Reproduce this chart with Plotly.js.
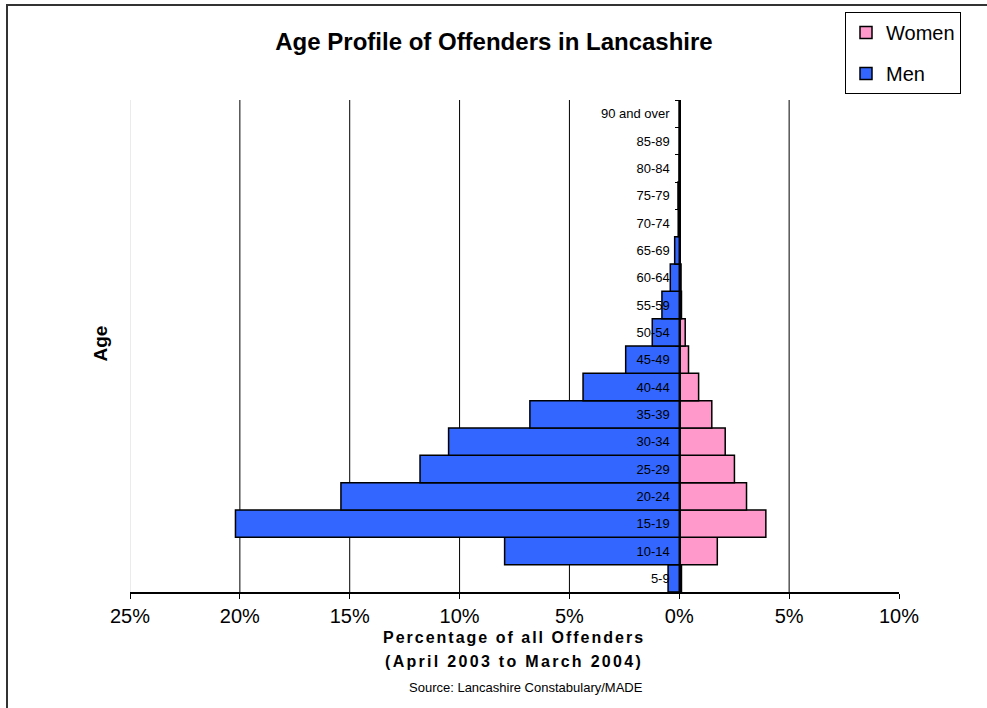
<!DOCTYPE html>
<html>
<head>
<meta charset="utf-8">
<script src="https://cdn.plot.ly/plotly-3.0.1.min.js"></script>
<style>html,body{margin:0;padding:0;background:#fff;}#chart{width:987px;height:708px;}</style>
</head>
<body>
<div id="chart"></div>
<script>
const ageGroups = ["5-9","10-14","15-19","20-24","25-29","30-34","35-39","40-44","45-49","50-54","55-59","60-64","65-69","70-74","75-79","80-84","85-89","90 and over"];
const menPct   = [0.51, 7.95, 20.2, 15.4, 11.8, 10.5, 6.8, 4.38, 2.44, 1.23, 0.79, 0.41, 0.21, 0.05, 0.06, 0.01, 0, 0];
const womenPct = [0.1, 1.73, 3.94, 3.06, 2.51, 2.09, 1.48, 0.88, 0.42, 0.27, 0.1, 0.08, 0.03, 0.02, 0.02, 0.01, 0, 0];
const xTickVals = [-25, -20, -15, -10, -5, 0, 5, 10];
const xTickText = ["25%", "20%", "15%", "10%", "5%", "0%", "5%", "10%"];
const gridVals = [-20, -15, -10, -5, 5];

const menNeg = menPct.map(v => -v);

const data = [
  {type:'bar', orientation:'h', name:'Women', y:ageGroups, x:womenPct, legendgroup:'w',
   marker:{color:'#FF99CC', line:{color:'#000', width:1.5}}, hoverinfo:'x+y'},
  {type:'bar', orientation:'h', name:'Men', y:ageGroups, x:menNeg, legendgroup:'m',
   marker:{color:'#3366FF', line:{color:'#000', width:1.5}}, hoverinfo:'x+y'}
];

const L = 130, R = 899, T = 100, B = 592;
const PW = R - L, PH = B - T;
const px2x = p => (p - L) / PW;
const px2y = p => (B - p) / PH;

const shapes = [];
gridVals.forEach(v => shapes.push({type:'line', xref:'x', yref:'paper', x0:v, x1:v, y0:0, y1:1, line:{color:'#000', width:1}, layer:'below'}));
shapes.push({type:'line', xref:'x', yref:'paper', x0:-25, x1:-25, y0:0, y1:1, line:{color:'#d8d8d8', width:1}, layer:'below'});
shapes.push({type:'rect', xref:'paper', yref:'paper', x0:px2x(7), x1:px2x(1000), y0:px2y(720), y1:px2y(5), line:{color:'#333', width:2}, fillcolor:'rgba(0,0,0,0)', layer:'below'});

const layout = {
  width:987, height:708,
  margin:{l:L, r:987-R, t:T, b:708-B},
  paper_bgcolor:'#fff', plot_bgcolor:'#fff',
  font:{family:'Arial, Liberation Sans, sans-serif', color:'#000'},
  title:{text:'<b>Age Profile of Offenders in Lancashire</b>', font:{size:24, family:'Arial, Liberation Sans, sans-serif'}, x:494/987, xref:'container', xanchor:'center', y:1-42/708, yref:'container', yanchor:'middle'},
  barmode:'relative', bargap:0,
  showlegend:true,
  legend:{x:px2x(845), y:px2y(12), xanchor:'left', yanchor:'top', bordercolor:'#000', borderwidth:1, bgcolor:'#fff',
          font:{size:20}, tracegroupgap:12, traceorder:'grouped', itemwidth:30},
  xaxis:{range:[-25,10], tickvals:xTickVals, ticktext:xTickText, showgrid:false, zeroline:false,
         showline:true, linecolor:'#000', linewidth:1.5, ticks:'outside', ticklen:5, tickcolor:'#000',
         tickfont:{size:20}, fixedrange:true},
  yaxis:{type:'category', range:[-0.5,17.5], anchor:'free', position:25/35, showgrid:false, zeroline:false,
         showline:true, linecolor:'#000', linewidth:1.5, ticks:'outside', ticklen:4, tickcolor:'#000',
         tickson:'boundaries', tickfont:{size:13}, ticklabelstandoff:7, fixedrange:true},
  shapes:shapes,
  annotations:[
    {text:'<b>Age</b>', xref:'paper', yref:'paper', x:px2x(87), y:px2y(344), showarrow:false, textangle:-90, font:{size:19}},
    {text:'<span style="letter-spacing:2px"><b>Percentage of all Offenders</b></span>', xref:'paper', yref:'paper', x:px2x(514), y:px2y(648), showarrow:false, font:{size:16}},
    {text:'<span style="letter-spacing:2.3px"><b>(April 2003 to March 2004)</b></span>', xref:'paper', yref:'paper', x:px2x(514), y:px2y(672), showarrow:false, font:{size:16}},
    {text:'Source: Lancashire Constabulary/MADE', xref:'paper', yref:'paper', x:px2x(526), y:px2y(697), showarrow:false, font:{size:13}}
  ]
};

Plotly.newPlot('chart', data, layout, {displayModeBar:false, staticPlot:true});
</script>
</body>
</html>
